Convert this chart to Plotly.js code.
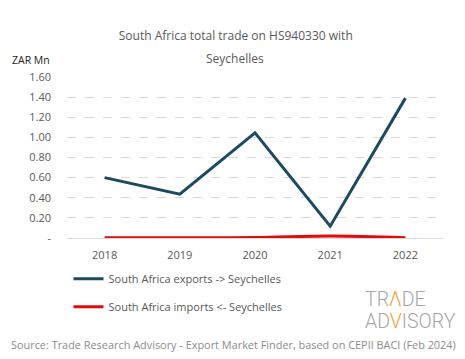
<!DOCTYPE html>
<html>
<head>
<meta charset="utf-8">
<script src="https://cdn.plot.ly/plotly-3.0.1.min.js"></script>
<style>html,body{margin:0;padding:0;background:#fff;}#chart{width:465px;height:359px;}</style>
</head>
<body>
<div id="chart"></div>
<script>
const years = ['2018', '2019', '2020', '2021', '2022'];
const exportsZAR = [0.60, 0.435, 1.045, 0.117, 1.39];
const importsZAR = [0.003, 0.003, 0.004, 0.02, 0.003];
const yTickVals = [0, 0.2, 0.4, 0.6, 0.8, 1.0, 1.2, 1.4, 1.6];
const yTickText = ['-', '0.20', '0.40', '0.60', '0.80', '1.00', '1.20', '1.40', '1.60'];

const FONT = 'Open Sans, Noto Sans, sans-serif';
const LOGO = 'Roboto, sans-serif';
const data = [
  {x: years, y: exportsZAR, type: 'scatter', mode: 'lines', name: 'South Africa exports -> Seychelles',
   line: {color: '#1d4a61', width: 3}, legendgroup: 'a'},
  {x: years, y: importsZAR, type: 'scatter', mode: 'lines', name: 'South Africa imports <- Seychelles',
   line: {color: '#e00b0b', width: 3, shape: 'spline'}, legendgroup: 'b'}
];
const layout = {
  width: 465, height: 359,
  margin: {l: 67, r: 22, t: 77, b: 121},
  paper_bgcolor: '#fff', plot_bgcolor: '#fff',
  font: {family: FONT, size: 11, color: '#595959'},
  title: {text: 'South Africa total trade on HS940330 with', x: 0.507, xanchor: 'center', yref: 'container', y: 0.8997, yanchor: 'middle',
          font: {family: FONT, size: 12, color: '#595959'}},
  xaxis: {type: 'category', range: [-0.5, 4.5], showgrid: false, zeroline: false, showline: false, ticks: '',
          ticklabelstandoff: 9, tickfont: {size: 11, color: '#595959'}, fixedrange: true},
  yaxis: {range: [0, 1.6], tickvals: yTickVals, ticktext: yTickText, showgrid: true, gridcolor: '#d9d9d9', griddash: 'dash',
          gridwidth: 1, zeroline: true, zerolinecolor: '#d9d9d9', zerolinewidth: 1, ticks: '', ticklabelstandoff: 15,
          tickfont: {size: 11, color: '#595959'}, fixedrange: true},
  showlegend: true,
  legend: {x: 0.004, xanchor: 'left', y: -0.163, yanchor: 'top', orientation: 'v', tracegroupgap: 9,
           font: {size: 11, color: '#595959'}, bgcolor: 'rgba(0,0,0,0)'},
  annotations: [
    {text: 'Seychelles', xref: 'paper', yref: 'paper', x: 0.448, xanchor: 'center', y: 1.118, yanchor: 'middle', showarrow: false,
     font: {size: 12, color: '#595959'}},
    {text: 'ZAR Mn', xref: 'paper', yref: 'paper', x: -0.152, xanchor: 'left', y: 1.106, yanchor: 'middle', showarrow: false,
     font: {size: 10.5, color: '#262626'}},
    {text: 'TR<span style="color:#f0a030">Λ</span>DE', xref: 'paper', yref: 'paper', x: 0.787, xanchor: 'left', y: -0.383, yanchor: 'middle',
     showarrow: false, font: {family: LOGO, size: 19.5, weight: 300, color: '#a6a6a6'}},
    {text: 'AD<span style="color:#f0a030">V</span>ISORY', xref: 'paper', yref: 'paper', x: 0.787, xanchor: 'left', y: -0.517, yanchor: 'middle',
     showarrow: false, font: {family: LOGO, size: 19.5, weight: 300, color: '#a6a6a6'}},
    {text: 'Source: Trade Research Advisory - Export Market Finder, based on CEPII BACI (Feb 2024)', xref: 'paper', yref: 'paper',
     x: 0.443, xanchor: 'center', y: -0.661, yanchor: 'middle', showarrow: false, font: {size: 10.9, color: '#8c8c8c'}}
  ]
};
Plotly.newPlot('chart', data, layout, {displayModeBar: false, staticPlot: true});
</script>
</body>
</html>
